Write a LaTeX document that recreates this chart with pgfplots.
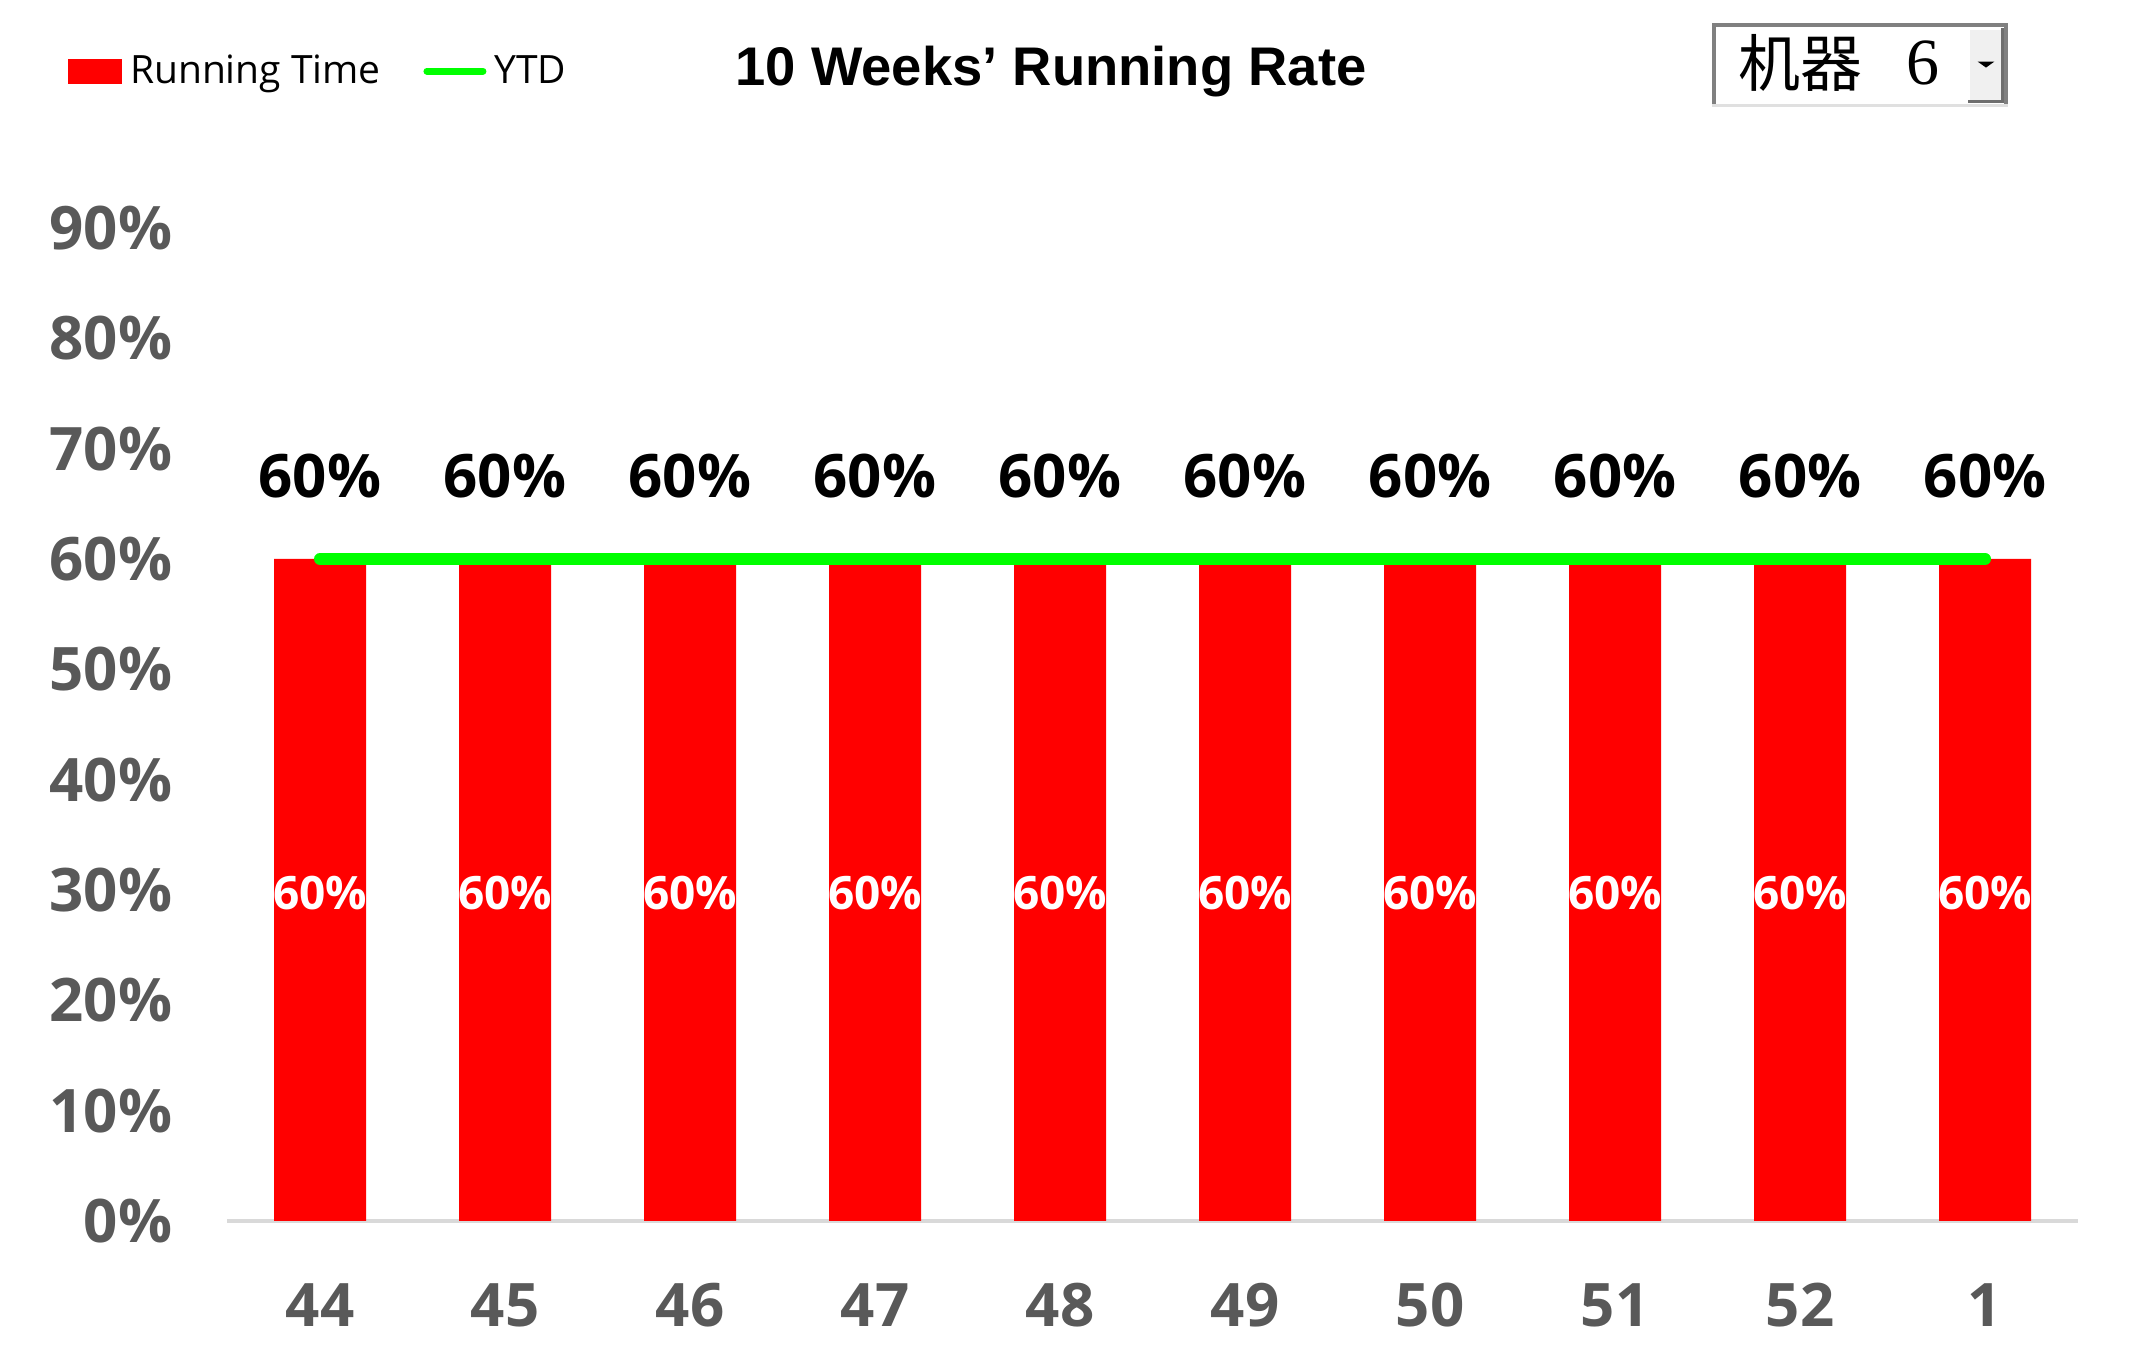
\documentclass[border=0pt]{standalone}
\usepackage{pgfplots}
\pgfplotsset{compat=1.18}
\usepackage{pgfplotstable}
\usepackage{fontspec}
\setmainfont{Open Sans}
\newfontfamily\titlefont{Liberation Sans}
\newfontfamily\cjkfont{Noto Sans CJK SC}
\newfontfamily\seriffont{Liberation Serif}
\definecolor{barred}{HTML}{FF0000}
\definecolor{ytdgreen}{HTML}{00FF00}
\definecolor{ticktext}{HTML}{595959}
\definecolor{axisgray}{HTML}{D9D9D9}
\definecolor{boxgray}{HTML}{808080}
\definecolor{boxlight}{HTML}{E0E0E0}
\definecolor{btnface}{HTML}{F0F0F0}
\definecolor{btnshadow}{HTML}{6E6E6E}

\pgfplotstableread{
x week run ytd
0 44 60 60
1 45 60 60
2 46 60 60
3 47 60 60
4 48 60 60
5 49 60 60
6 50 60 60
7 51 60 60
8 52 60 60
9 1 60 60
}\weekdata

\begin{document}
\begin{tikzpicture}
\path[use as bounding box] (0,0) rectangle (1065.5pt,682pt);
\begin{axis}[
  at={(113.75pt,71.5pt)}, anchor=south west,
  scale only axis, width=925pt, height=496.5pt,
  xmin=-0.5, xmax=9.5, ymin=0, ymax=90,
  clip=false,
  axis lines*=left,
  axis line style={-},
  y axis line style={draw=none},
  x axis line style={draw=axisgray, line width=2pt, -},
  major tick length=0pt,
  tick style={draw=none},
  xtick={0,...,9},
  xticklabels from table={\weekdata}{week},
  ytick={0,10,...,90},
  yticklabel={\pgfmathprintnumber{\tick}\%},
  /pgf/number format/assume math mode=true,
  tick label style={font=\bfseries\fontsize{30}{36}\selectfont, text=ticktext},
  yticklabel style={anchor=east, inner sep=0pt, xshift=-27.5pt},
  xticklabel style={anchor=center, inner sep=0pt, yshift=-42pt},
  legend style={at={(axis description cs:-0.0862,1.158)}, anchor=west,
    draw=none, fill=none, inner sep=0pt, outer sep=0pt,
    legend columns=-1,
    font=\fontsize{19.5}{23}\selectfont,
    nodes={inner xsep=4pt, inner ysep=0pt},
    /tikz/every even column/.append style={column sep=17.3pt}},
  legend cell align=left,
]
\addplot[ybar, bar width=46pt, bar shift=0pt, fill=barred, draw=none,
  nodes near coords={\pgfmathprintnumber{\pgfplotspointmeta}\%},
  nodes near coords style={font=\bfseries\fontsize{30}{36}\selectfont, text=black, anchor=center, yshift=41.5pt},
  legend image code/.code={\fill[barred] (0pt,-6.25pt) rectangle (27pt,6.25pt);}]
  table[x=x, y=run]{\weekdata};
\addlegendentry{Running Time}
\addplot[draw=none, mark=none, forget plot, point meta=explicit,
  nodes near coords={\pgfmathprintnumber{\pgfplotspointmeta}\%},
  nodes near coords style={font=\bfseries\fontsize{23}{28}\selectfont, text=white, anchor=center, yshift=-1.4pt}]
  table[x=x, y expr=\thisrow{run}/2, meta=run]{\weekdata};
\addplot[ytdgreen, line width=6pt, line cap=round, mark=none,
  legend image code/.code={\draw[ytdgreen, line width=3.5pt, line cap=round] (1.75pt,0pt) -- (29.75pt,0pt);}]
  table[x=x, y=ytd]{\weekdata};
\addlegendentry[xshift=-4pt]{YTD}
\end{axis}
% title
\node[font=\titlefont\bfseries\fontsize{27.2}{32}\selectfont, anchor=center, inner sep=0pt] at (525.5pt,646.1pt) {10 Weeks’ Running Rate};
% dropdown box
\fill[white] (856pt,628.5pt) rectangle (1004pt,670.5pt);
\draw[boxgray, line width=2pt] (857pt,629.5pt) -- (857pt,669.5pt) -- (1003pt,669.5pt) -- (1003pt,629.5pt);
\draw[boxlight, line width=1.5pt] (856pt,629.25pt) -- (1004pt,629.25pt);
\fill[btnface] (984pt,630.5pt) rectangle (1001.5pt,668pt);
\draw[white, line width=1pt] (984.5pt,631pt) -- (984.5pt,667.5pt) -- (1001pt,667.5pt);
\draw[btnshadow, line width=1.5pt] (984pt,631.25pt) -- (1001.25pt,631.25pt) -- (1001.25pt,668pt);
\fill[black] (988.8pt,651.2pt) -- (997.2pt,651.2pt) -- (993pt,648.2pt) -- cycle;
\node[font=\cjkfont\fontsize{31}{34}\selectfont, anchor=west, inner sep=0pt] at (869pt,650.5pt) {机器};
\node[font=\seriffont\fontsize{33}{36}\selectfont, anchor=center, inner sep=0pt] at (961.25pt,650.5pt) {6};
\end{tikzpicture}
\end{document}
